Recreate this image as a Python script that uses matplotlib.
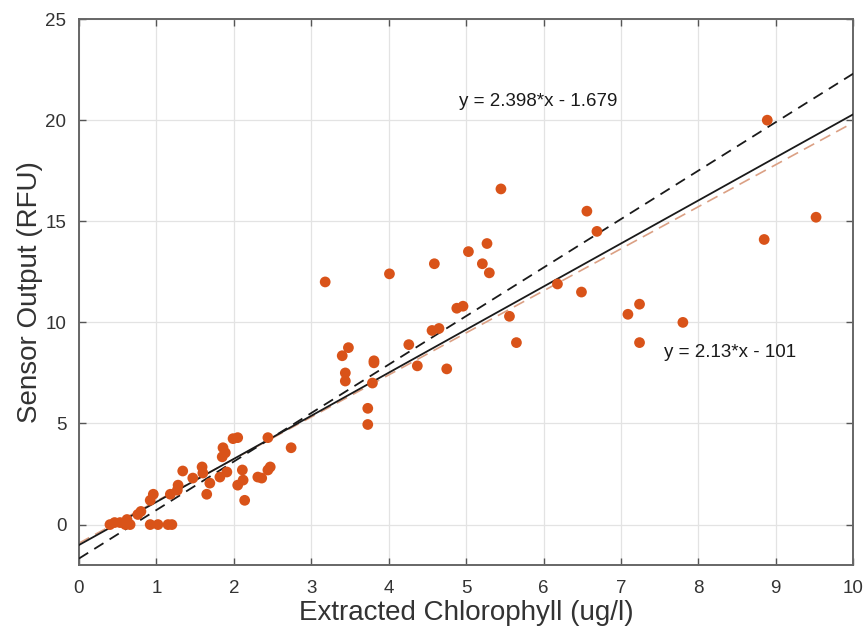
import matplotlib
matplotlib.use("Agg")
import matplotlib.pyplot as plt
import numpy as np

plt.rcParams['font.family'] = ['Liberation Sans', 'DejaVu Sans']

# Data
chl = [0.40, 0.46, 0.53, 0.60, 0.66, 0.62, 0.76, 0.80, 0.92, 0.96, 0.92, 1.02, 1.15, 1.20,
       1.18, 1.27, 1.28, 1.34, 1.47, 1.59, 1.60, 1.65, 1.69, 1.82, 1.91, 1.86, 1.89, 1.85,
       1.99, 2.05, 2.11, 2.12, 2.05, 2.31, 2.36, 2.47, 2.44, 2.44, 2.74, 2.14,
       3.18, 4.01, 4.59, 5.03, 5.27, 5.21, 5.30, 5.45, 6.56, 6.69, 6.18, 6.49, 7.09, 7.24,
       7.24, 7.80, 5.56, 5.65, 4.88, 4.96, 4.56, 4.65, 4.26, 4.37, 4.75, 3.48, 3.40, 3.44,
       3.44, 3.81, 3.81, 3.79, 3.73, 3.73,
       8.89, 9.52, 8.85]
rfu = [0.00, 0.10, 0.10, 0.00, 0.00, 0.25, 0.50, 0.65, 1.20, 1.50, 0.00, 0.00, 0.00, 0.00,
       1.50, 1.70, 1.95, 2.65, 2.30, 2.85, 2.55, 1.50, 2.05, 2.35, 2.60, 3.80, 3.55, 3.35,
       4.25, 4.30, 2.70, 2.20, 1.95, 2.35, 2.30, 2.85, 2.70, 4.30, 3.80, 1.20,
       12.0, 12.4, 12.9, 13.5, 13.9, 12.9, 12.45, 16.6, 15.5, 14.5, 11.9, 11.5, 10.4, 10.9,
       9.0, 10.0, 10.3, 9.0, 10.7, 10.8, 9.6, 9.7, 8.9, 7.85, 7.7, 8.75, 8.35, 7.5,
       7.1, 8.1, 8.0, 7.0, 5.75, 4.95,
       20.0, 15.2, 14.1]

# Fit lines: (slope, intercept)
fit_dashed = (2.398, -1.679)
fit_solid = (2.13, -1.01)
fit_orange = (2.08, -0.92)
line_x = [0, 10]

label_1 = "y = 2.398*x - 1.679"
label_2 = "y = 2.13*x - 101"

xticks = list(range(0, 11))
yticks = [0, 5, 10, 15, 20, 25]

fig = plt.figure(figsize=(8.67, 6.36), dpi=100)
ax = fig.add_axes([0.0911, 0.1116, 0.893, 0.8584])

ax.grid(True, color='#e3e3e3', linewidth=0.9, zorder=0)
ax.set_axisbelow(True)

lx = np.array(line_x, dtype=float)
ax.plot(lx, fit_orange[0] * lx + fit_orange[1], color='#dba084', linestyle=(0, (7, 4)),
        linewidth=1.2, zorder=2)
ax.plot(lx, fit_solid[0] * lx + fit_solid[1], color='#1a1a1a', linewidth=1.3, zorder=3)
ax.plot(lx, fit_dashed[0] * lx + fit_dashed[1], color='#1a1a1a', linestyle=(0, (6, 4)),
        linewidth=1.3, zorder=3)

ax.scatter(chl, rfu, s=60, color='#D95319', edgecolors='none', zorder=4)

ax.text(4.91, 20.9, label_1, fontsize=13.5, color='#1a1a1a', va='center', ha='left')
ax.text(7.56, 8.5, label_2, fontsize=13.5, color='#1a1a1a', va='center', ha='left')

ax.set_xlim(0, 10)
ax.set_ylim(-2, 25)
ax.set_xticks(xticks)
ax.set_yticks(yticks)
ax.tick_params(direction='in', top=True, right=True, length=5, width=1,
               color='#555555', labelsize=13.5, labelcolor='#333333')
ax.tick_params(axis='x', pad=11)
ax.tick_params(axis='y', pad=9)
for sp in ax.spines.values():
    sp.set_color('#666666')
    sp.set_linewidth(1.4)

ax.set_xlabel("Extracted Chlorophyll (ug/l)", fontsize=20, color='#333333', labelpad=2)
ax.set_ylabel("Sensor Output (RFU)", fontsize=20, color='#333333', labelpad=2)

fig.savefig("out.png", dpi=100)
